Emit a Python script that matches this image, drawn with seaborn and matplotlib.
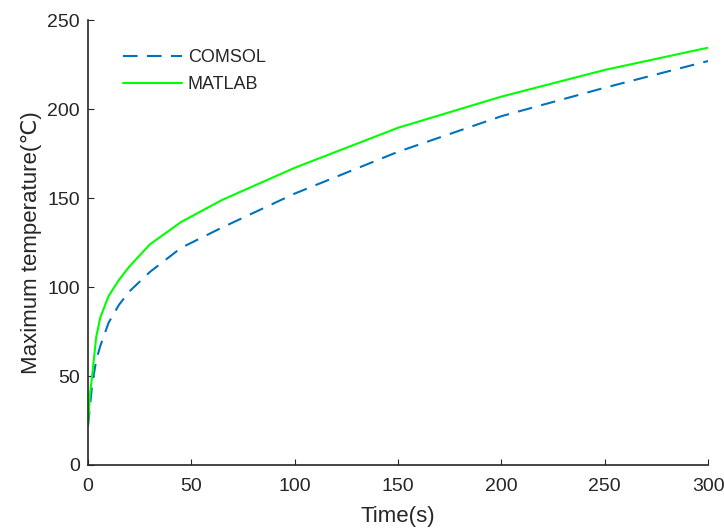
import pandas as pd
import seaborn as sns
import matplotlib.pyplot as plt

# values
time_s = [0, 1, 2, 4, 6, 10, 15, 20, 30, 45, 65, 100, 150, 200, 250, 300]
matlab_temp = [22, 40, 50, 72, 83, 95, 104, 111.5, 124, 136.5, 149, 167, 189.5, 207, 222, 234.5]
comsol_temp = [22, 33, 45, 59, 67, 80, 90, 97.5, 108.5, 122, 133.5, 152.5, 176, 196, 212, 227]

x_ticks = [0, 50, 100, 150, 200, 250, 300]
y_ticks = [0, 50, 100, 150, 200, 250]

sns.set_style("ticks")
plt.rcParams['font.family'] = ['Liberation Sans', 'DejaVu Sans']
plt.rcParams['xtick.direction'] = 'in'
plt.rcParams['ytick.direction'] = 'in'

fig, ax = plt.subplots(figsize=(7.24, 5.29), dpi=100)
fig.subplots_adjust(left=0.1215, right=0.978, top=0.962, bottom=0.121)

sns.lineplot(x=time_s, y=comsol_temp, ax=ax, color='#0072BD', linewidth=1.5,
             label='COMSOL')
sns.lineplot(x=time_s, y=matlab_temp, ax=ax, color='#00FF00', linewidth=1.5,
             label='MATLAB')
ax.lines[0].set_dashes((7, 4.5))

ax.set_xlim(0, 300)
ax.set_ylim(0, 250)
ax.set_xticks(x_ticks)
ax.set_yticks(y_ticks)
ax.tick_params(labelsize=14, length=4, width=0.8, colors='#262626')
ax.tick_params(axis='x', pad=9.5)
ax.tick_params(axis='y', pad=5.8)
ax.set_xlabel("Time(s)", fontsize=16, color='#262626', labelpad=8)
ax.set_ylabel("Maximum temperature(℃)", fontsize=16, color='#262626', labelpad=4)
sns.despine(ax=ax)
for s in ['left', 'bottom']:
    ax.spines[s].set_linewidth(1.2)
    ax.spines[s].set_color('#262626')

leg = ax.legend(loc='upper left', bbox_to_anchor=(0.056, 0.935), frameon=False,
                fontsize=13, handlelength=3.3, handletextpad=0.3,
                borderpad=0, borderaxespad=0, labelspacing=0.55)

plt.savefig("out.png", dpi=100)
plt.close()
